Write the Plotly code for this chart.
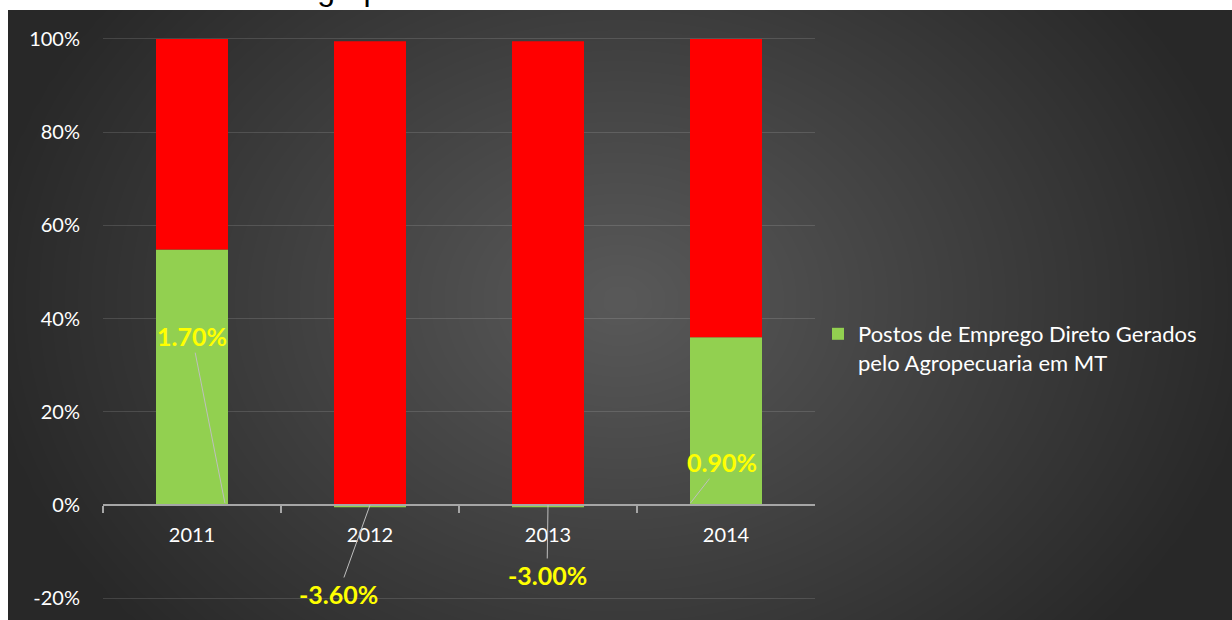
import numpy as np
import plotly.graph_objects as go

# ---- data ----
categories = ["2011", "2012", "2013", "2014"]
green_share = [54.8, -0.5, -0.5, 36.0]      # % of 100% stacked bar
red_share = [45.2, 99.5, 99.5, 64.0]
green_labels = [1.70, -3.60, -3.00, 0.90]    # data label values (%)
y_ticks = [-20, 0, 20, 40, 60, 80, 100]
legend_name = "Postos de Emprego Direto Gerados<br>pelo Agropecuaria em MT"
title_text = "Agropecuária em MT de Ano a Ano"

W, H = 1232, 620
ML, MT = 8, 10
PW, PH = W - ML, H - MT
Y0, Y1 = -24.68, 106.22

fig = go.Figure()

# background radial gradient (drawn on its own full-size subplot)
nx, ny = 80, 40
xs = np.linspace(0, PW, nx)
ys = np.linspace(0, PH, ny)
XX, YY = np.meshgrid(xs, ys)
cx, cy, rx, ry = 612, 290, 640, 500
t = np.clip(np.sqrt(((XX - cx) / rx) ** 2 + ((YY - cy) / ry) ** 2), 0, 1)
fig.add_trace(go.Heatmap(
    x=xs, y=ys, z=1 - t, zmin=0, zmax=1, zsmooth="best",
    colorscale=[[0, "#282828"], [1, "#595959"]], showscale=False,
    hoverinfo="skip", xaxis="x", yaxis="y", showlegend=False))

fig.add_trace(go.Bar(
    x=categories, y=green_share, name=legend_name,
    marker=dict(color="#92D050", line=dict(width=0)),
    xaxis="x2", yaxis="y2", showlegend=True))
fig.add_trace(go.Bar(
    x=categories, y=red_share, name="",
    marker=dict(color="#FF0000", line=dict(width=0)),
    xaxis="x2", yaxis="y2", showlegend=False))

# data labels with leader lines
label_tips = [(0.185, 0.4, -33, -167), (1.0, 0.0, -32, 89),
              (2.0, 0.0, -1, 70), (2.80, 0.4, 32, -41)]
for v, (tx, ty, ax, ay) in zip(green_labels, label_tips):
    fig.add_annotation(
        x=tx, y=ty, xref="x2", yref="y2", text=f"{v:.2f}%",
        showarrow=True, arrowhead=0, arrowwidth=1, arrowcolor="#bfbfbf",
        ax=ax, ay=ay, font=dict(family="Lato", size=25, color="#FFFF00",
                               weight="bold"))

# title (cut off at top, as in the reference)
fig.add_annotation(
    x=(294 - ML) / PW, y=1 + 1 / PH, xref="paper", yref="paper",
    xanchor="left", yanchor="bottom", text=title_text, showarrow=False,
    font=dict(family="Liberation Sans", size=32, color="#000000"))

pos0 = (0 - Y0) / (Y1 - Y0)

fig.update_layout(
    width=W, height=H,
    margin=dict(l=ML, r=0, t=MT, b=0),
    paper_bgcolor="#ffffff", plot_bgcolor="rgba(0,0,0,0)",
    barmode="relative", bargap=0.5955,
    font=dict(family="Lato", color="#ffffff"),
    xaxis=dict(domain=[0, 1], range=[0, PW], visible=False, fixedrange=True),
    yaxis=dict(domain=[0, 1], range=[PH, 0], visible=False, fixedrange=True),
    xaxis2=dict(domain=[(103 - ML) / PW, (815 - ML) / PW], anchor="free",
                position=pos0, type="category", range=[-0.5, 3.5],
                showline=True, linecolor="#a6a6a6", linewidth=2,
                ticks="outside", ticklen=7, tickcolor="#a6a6a6", tickwidth=2,
                tickson="boundaries", showgrid=False, ticklabelstandoff=12,
                tickfont=dict(family="Lato", size=20, color="#ffffff")),
    yaxis2=dict(domain=[0, 1], anchor="x2", range=[Y0, Y1],
                tickvals=y_ticks, ticktext=[f"{v}%" for v in y_ticks],
                showgrid=True, gridcolor="rgba(255,255,255,0.13)", gridwidth=1,
                zeroline=False, showline=False, ticks="",
                ticklabelstandoff=22,
                tickfont=dict(family="Lato", size=20, color="#ffffff")),
    legend=dict(x=(818 - ML) / PW, y=1 - (313 - MT) / PH, xanchor="left",
                yanchor="top", valign="top", bgcolor="rgba(0,0,0,0)",
                font=dict(family="Lato", size=22, color="#ffffff")),
)

fig.write_html("out.html", config={"displayModeBar": False},
               post_script="document.body.style.margin='0';")
